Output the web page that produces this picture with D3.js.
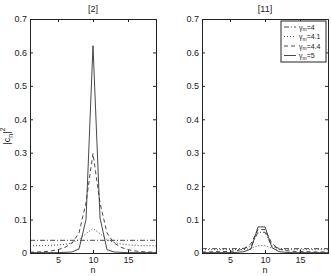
<!DOCTYPE html>
<html>
<head>
<meta charset="utf-8">
<script src="https://cdn.jsdelivr.net/npm/d3@7"></script>
<style>
  body { margin: 0; background: #fff; }
  svg { font-family: "Liberation Sans", Arial, sans-serif; }
</style>
</head>
<body>
<div id="chart"></div>
<script>
// data
var nVals = [1,2,3,4,5,6,7,8,9,10,11,12,13,14,15,16,17,18,19];
var titles = ["[2]", "[11]"];
var legendLabels = ["4", "4.1", "4.4", "5"];
var yTicks = [0, 0.1, 0.2, 0.3, 0.4, 0.5, 0.6, 0.7];
var xTicks = [5, 10, 15];

// panel [2]
var left40 = [0.038,0.038,0.038,0.038,0.038,0.038,0.038,0.038,0.038,0.038,0.038,0.038,0.038,0.038,0.038,0.038,0.038,0.038,0.038];
var left41 = [0.022,0.022,0.022,0.023,0.024,0.026,0.030,0.040,0.058,0.073,0.058,0.040,0.031,0.027,0.024,0.023,0.022,0.022,0.022];
var left44 = [0.002,0.003,0.004,0.006,0.010,0.017,0.030,0.060,0.150,0.298,0.150,0.060,0.030,0.017,0.010,0.006,0.004,0.003,0.002];
var left50 = [0.001,0.001,0.001,0.001,0.001,0.002,0.003,0.012,0.100,0.620,0.105,0.010,0.003,0.002,0.001,0.001,0.001,0.001,0.001];

// panel [11]
var right40 = [0.013,0.013,0.013,0.013,0.013,0.013,0.014,0.020,0.062,0.062,0.020,0.014,0.013,0.013,0.013,0.013,0.013,0.013,0.013];
var right41 = [0.010,0.010,0.010,0.010,0.010,0.010,0.010,0.014,0.022,0.022,0.014,0.010,0.010,0.010,0.010,0.010,0.010,0.010,0.010];
var right44 = [0.003,0.003,0.004,0.004,0.005,0.007,0.012,0.028,0.070,0.070,0.028,0.012,0.007,0.005,0.004,0.004,0.003,0.003,0.003];
var right50 = [0.001,0.001,0.001,0.001,0.001,0.002,0.004,0.012,0.078,0.078,0.016,0.004,0.002,0.001,0.001,0.001,0.001,0.001,0.001];

var dashes = ["5,2,1,2", "1,2", "4,3", null];

var W = 331, H = 276;
var svg = d3.select("#chart").append("svg")
  .attr("width", W).attr("height", H);

var yTop = 19, yBottom = 253, pw = 126;
var panels = [
  {x0: 30, title: titles[0], series: [left40, left41, left44, left50]},
  {x0: 202, title: titles[1], series: [right40, right41, right44, right50]}
];

var y = d3.scaleLinear().domain([0, 0.7]).range([yBottom, yTop]);

panels.forEach(function(p, pi) {
  var x = d3.scaleLinear().domain([1, 19]).range([p.x0, p.x0 + pw]);
  var g = svg.append("g");

  // lines
  p.series.forEach(function(vals, si) {
    var line = d3.line()
      .x(function(d, i) { return x(nVals[i]); })
      .y(function(d) { return y(d); });
    g.append("path")
      .datum(vals)
      .attr("d", line)
      .attr("fill", "none")
      .attr("stroke", "#333")
      .attr("stroke-width", 0.9)
      .attr("stroke-dasharray", dashes[si]);
  });

  // axes, ticks inward on all sides
  var fmt = function(d) { return d === 0 ? "0" : d3.format(".1f")(d); };
  var ax = [
    g.append("g").attr("transform", "translate(0," + yBottom + ")")
      .call(d3.axisBottom(x).tickValues(xTicks).tickSize(-3).tickPadding(4)),
    g.append("g").attr("transform", "translate(0," + yTop + ")")
      .call(d3.axisTop(x).tickValues(xTicks).tickSize(-3).tickFormat("")),
    g.append("g").attr("transform", "translate(" + p.x0 + ",0)")
      .call(d3.axisLeft(y).tickValues(yTicks).tickSize(-3).tickPadding(3).tickFormat(fmt)),
    g.append("g").attr("transform", "translate(" + (p.x0 + pw) + ",0)")
      .call(d3.axisRight(y).tickValues(yTicks).tickSize(-3).tickFormat(""))
  ];
  ax.forEach(function(a) {
    a.selectAll(".domain").attr("stroke", "#222");
    a.selectAll(".tick line").attr("stroke", "#222");
    a.selectAll("text").attr("fill", "#222").style("font-size", "9px")
      .style("font-family", "Liberation Sans, Arial, sans-serif");
  });

  // title
  g.append("text")
    .attr("x", p.x0 + pw / 2).attr("y", 12)
    .attr("text-anchor", "middle")
    .style("font-size", "9px").attr("fill", "#222")
    .text(p.title);

  // x label
  g.append("text")
    .attr("x", p.x0 + pw / 2).attr("y", 273)
    .attr("text-anchor", "middle")
    .style("font-size", "9px").attr("fill", "#222")
    .text("n");
});

// y label |c_n|^2
var yl = svg.append("text")
  .attr("transform", "translate(10," + ((yTop + yBottom) / 2) + ") rotate(-90)")
  .attr("text-anchor", "middle")
  .style("font-size", "9px").attr("fill", "#222");
yl.append("tspan").text("|c");
yl.append("tspan").attr("dy", 3).style("font-size", "7px").text("n");
yl.append("tspan").attr("dy", -3).text("|");
yl.append("tspan").attr("dy", -5).style("font-size", "7px").text("2");

// legend
var lx = 281, ly = 21, lw = 45, lh = 41;
var leg = svg.append("g");
leg.append("rect")
  .attr("x", lx).attr("y", ly).attr("width", lw).attr("height", lh)
  .attr("fill", "#fff").attr("stroke", "#222").attr("stroke-width", 1);
legendLabels.forEach(function(lab, i) {
  var yy = ly + 6 + i * 9.5;
  leg.append("line")
    .attr("x1", lx + 3).attr("x2", lx + 15).attr("y1", yy).attr("y2", yy)
    .attr("stroke", "#333").attr("stroke-width", 0.9)
    .attr("stroke-dasharray", dashes[i]);
  var t = leg.append("text")
    .attr("x", lx + 18).attr("y", yy + 2.5)
    .style("font-size", "7px").attr("fill", "#222");
  t.append("tspan").text("\u03b3");
  t.append("tspan").attr("dy", 1.5).style("font-size", "5px").text("m");
  t.append("tspan").attr("dy", -1.5).text("=" + lab);
});
</script>
</body>
</html>
